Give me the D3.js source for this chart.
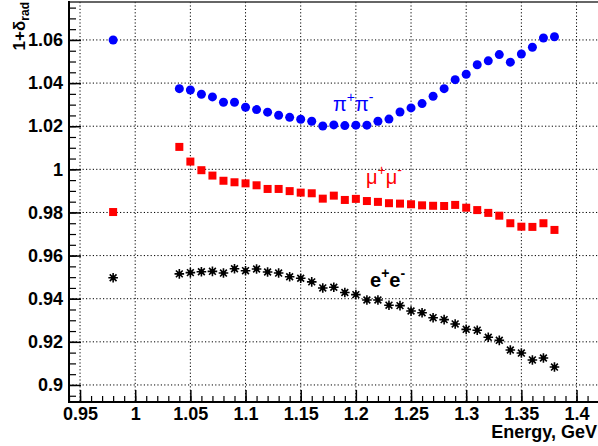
<!DOCTYPE html>
<html>
<head>
<meta charset="utf-8">
<script src="https://cdn.jsdelivr.net/npm/d3@7"></script>
<style>
  html, body { margin: 0; padding: 0; background: #fff; overflow: hidden; }
  svg { display: block; }
  text { font-family: "Liberation Sans", Arial, Helvetica, sans-serif; }
</style>
</head>
<body>
<svg id="chart" width="598" height="446"></svg>
<script>
// Beam energy points (GeV)
const energies = [0.98, 1.04, 1.05, 1.06, 1.07, 1.08, 1.09, 1.10, 1.11, 1.12, 1.13,
  1.14, 1.15, 1.16, 1.17, 1.18, 1.19, 1.20, 1.21, 1.22, 1.23, 1.24, 1.25, 1.26,
  1.27, 1.28, 1.29, 1.30, 1.31, 1.32, 1.33, 1.34, 1.35, 1.36, 1.37, 1.38];

// Radiative correction factor 1+delta_rad per final state
const pipiValues = [1.0600, 1.0374, 1.0368, 1.0348, 1.0336, 1.0311, 1.0311, 1.0288,
  1.0277, 1.0265, 1.0251, 1.0241, 1.0232, 1.0223, 1.0201, 1.0206, 1.0203, 1.0205,
  1.0205, 1.0223, 1.0233, 1.0266, 1.0285, 1.0305, 1.0339, 1.0374, 1.0416, 1.0441,
  1.0485, 1.0503, 1.0532, 1.0497, 1.0535, 1.0566, 1.0609, 1.0615];

const mumuValues = [0.9802, 1.0104, 1.0036, 0.9996, 0.9971, 0.9947, 0.9940, 0.9935,
  0.9926, 0.9909, 0.9909, 0.9899, 0.9892, 0.9889, 0.9864, 0.9878, 0.9858, 0.9863,
  0.9853, 0.9849, 0.9843, 0.9841, 0.9838, 0.9833, 0.9831, 0.9830, 0.9835, 0.9822,
  0.9811, 0.9798, 0.9785, 0.9750, 0.9734, 0.9733, 0.9750, 0.9719];

const eeValues = [0.9497, 0.9515, 0.9521, 0.9525, 0.9527, 0.9519, 0.9539, 0.9530,
  0.9538, 0.9524, 0.9519, 0.9502, 0.9495, 0.9478, 0.9450, 0.9453, 0.9429, 0.9419,
  0.9394, 0.9394, 0.9370, 0.9368, 0.9343, 0.9335, 0.9312, 0.9303, 0.9283, 0.9258,
  0.9254, 0.9221, 0.9207, 0.9162, 0.9148, 0.9116, 0.9125, 0.9083];

// Axis ticks
const xTicks = [0.95, 1.0, 1.05, 1.1, 1.15, 1.2, 1.25, 1.3, 1.35, 1.4];
const xTickLabels = ["0.95", "1", "1.05", "1.1", "1.15", "1.2", "1.25", "1.3", "1.35", "1.4"];
const yTicks = [0.90, 0.92, 0.94, 0.96, 0.98, 1.00, 1.02, 1.04, 1.06];
const yTickLabels = ["0.9", "0.92", "0.94", "0.96", "0.98", "1", "1.02", "1.04", "1.06"];

const svg = d3.select("#chart");
const padL = 69, padR = 598.6, padT = 2, padB = 402;

const x = d3.scaleLinear().domain([0.94, 1.42]).range([padL, padR]);
const y = d3.scaleLinear().domain([0.8921, 1.0776]).range([padB, padT]);

// minor tick positions
const xMinor = [];
for (let i = 94; i <= 142; i++) xMinor.push(i / 100);
const yMinor = [];
for (let i = 179; i <= 215; i++) yMinor.push(i / 200);

// dotted grid
const grid = svg.append("g").attr("stroke", "#000").attr("stroke-width", 1)
  .attr("stroke-dasharray", "1.2,2.2");
grid.selectAll("line.gx").data(xTicks).join("line")
  .attr("x1", d => x(d)).attr("x2", d => x(d))
  .attr("y1", padT).attr("y2", padB);
grid.selectAll("line.gy").data(yTicks).join("line")
  .attr("x1", padL).attr("x2", padR)
  .attr("y1", d => y(d)).attr("y2", d => y(d));

// minor ticks
svg.append("g").attr("transform", `translate(0,${padB})`)
  .call(d3.axisBottom(x).tickValues(xMinor).tickSize(-6).tickFormat(""))
  .call(g => g.select(".domain").remove())
  .call(g => g.selectAll("line").attr("stroke-width", 1.2));
svg.append("g").attr("transform", `translate(${padL},0)`)
  .call(d3.axisLeft(y).tickValues(yMinor).tickSize(-7).tickFormat(""))
  .call(g => g.select(".domain").remove())
  .call(g => g.selectAll("line").attr("stroke-width", 1.2));

// major ticks with labels
const xAxis = svg.append("g").attr("transform", `translate(0,${padB})`)
  .call(d3.axisBottom(x).tickValues(xTicks).tickSize(-12).tickPadding(5)
    .tickFormat((d, i) => xTickLabels[i]))
  .call(g => g.select(".domain").remove());
xAxis.selectAll("line").attr("stroke-width", 1.5);
xAxis.selectAll("text").attr("font-size", 18).attr("font-weight", "bold")
  .attr("fill", "#000").style("font-family", "'Liberation Sans', Arial, sans-serif");

const yAxis = svg.append("g").attr("transform", `translate(${padL},0)`)
  .call(d3.axisLeft(y).tickValues(yTicks).tickSize(-12).tickPadding(6)
    .tickFormat((d, i) => yTickLabels[i]))
  .call(g => g.select(".domain").remove());
yAxis.selectAll("line").attr("stroke-width", 1.5);
yAxis.selectAll("text").attr("font-size", 18).attr("font-weight", "bold")
  .attr("fill", "#000").style("font-family", "'Liberation Sans', Arial, sans-serif");

// frame
svg.append("line").attr("x1", padL).attr("x2", 600).attr("y1", padT).attr("y2", padT)
  .attr("stroke", "#333").attr("stroke-width", 1.5);
svg.append("line").attr("x1", padL).attr("x2", padL).attr("y1", padT - 1).attr("y2", padB + 1)
  .attr("stroke", "#000").attr("stroke-width", 2);
svg.append("line").attr("x1", padL - 1).attr("x2", 600).attr("y1", padB).attr("y2", padB)
  .attr("stroke", "#000").attr("stroke-width", 2);

// e+e-: asterisk markers
const star = d3.path();
const r = 4.8;
for (let k = 0; k < 4; k++) {
  const a = k * Math.PI / 4;
  star.moveTo(-r * Math.cos(a), -r * Math.sin(a));
  star.lineTo(r * Math.cos(a), r * Math.sin(a));
}
const starPath = star.toString();
const eeG = svg.append("g");
eeG.selectAll("g").data(energies).join("g")
  .attr("transform", (d, i) => `translate(${x(d)},${y(eeValues[i])})`)
  .each(function () {
    const g = d3.select(this);
    g.append("path").attr("d", starPath).attr("stroke", "#000").attr("stroke-width", 1.6);
    g.append("circle").attr("r", 2.4).attr("fill", "#000");
  });

// mu+mu-: squares
svg.append("g").selectAll("rect").data(energies).join("rect")
  .attr("x", d => x(d) - 4).attr("y", (d, i) => y(mumuValues[i]) - 4)
  .attr("width", 8).attr("height", 8).attr("fill", "#ff0000");

// pi+pi-: circles
svg.append("g").selectAll("circle").data(energies).join("circle")
  .attr("cx", d => x(d)).attr("cy", (d, i) => y(pipiValues[i]))
  .attr("r", 4.5).attr("fill", "#0000ff");

// channel labels
function chanLabel(px, py, base, color, weight) {
  const t = svg.append("text").attr("x", px).attr("y", py)
    .attr("fill", color).attr("font-size", 20).attr("font-weight", weight);
  t.append("tspan").text(base);
  t.append("tspan").attr("font-size", 14).attr("dy", -9).text("+");
  t.append("tspan").attr("dy", 9).text(base);
  t.append("tspan").attr("font-size", 14).attr("dy", -9).text("-");
}
chanLabel(333, 111, "π", "#0000ff", "normal");
chanLabel(366, 184, "μ", "#ff0000", "normal");
chanLabel(370, 287, "e", "#000", "bold");

// axis titles
svg.append("text").attr("x", 597).attr("y", 438).attr("text-anchor", "end")
  .attr("font-size", 18).attr("font-weight", "bold").text("Energy, GeV");

const yt = svg.append("text").attr("transform", "translate(25,2) rotate(-90)")
  .attr("text-anchor", "end").attr("font-size", 17).attr("font-weight", "bold");
yt.append("tspan").text("1+δ");
yt.append("tspan").attr("font-size", 12).attr("dy", 4).text("rad");
</script>
</body>
</html>
